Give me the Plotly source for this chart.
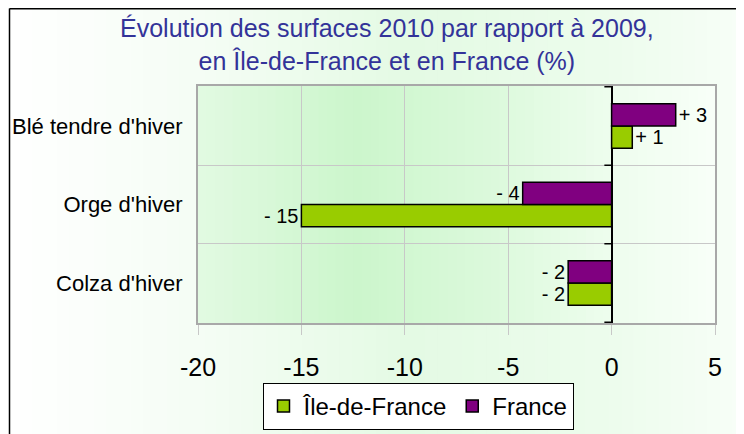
import plotly.graph_objects as go

# ---- data ----
categories = ["Colza d'hiver", "Orge d'hiver", "Blé tendre d'hiver"]
idf_values = [-2.1, -15.0, 1.0]
france_values = [-2.1, -4.3, 3.1]
idf_labels = ["- 2", "- 15", "+ 1"]
france_labels = ["- 2", "- 4", "+ 3"]
series_names = ["Île-de-France", "France"]
x_ticks = [-20, -15, -10, -5, 0, 5]
title_text = "Évolution des surfaces 2010 par rapport à 2009,<br>en Île-de-France et en France (%)"

FONT = "Liberation Sans, Arial, sans-serif"
OFF = 8                      # page body margin
W, H = 744 - OFF, 434 - OFF  # figure size
# plot area in window pixels: x 198..715, y 86..323
ML = 198 - OFF
MT = 86 - OFF
MR = W - (715 - OFF)
MB = H - (323 - OFF)
PW, PH = W - ML - MR, H - MT - MB


def px(xw):
    """window x pixel -> paper x"""
    return (xw - OFF - ML) / PW


def py(yw):
    """window y pixel -> paper y"""
    return (H - MB - (yw - OFF)) / PH


def lerp_color(stops, t):
    for i in range(len(stops) - 1):
        t0, c0 = stops[i]
        t1, c1 = stops[i + 1]
        if t0 <= t <= t1:
            f = (t - t0) / (t1 - t0) if t1 > t0 else 0
            c = [round(c0[k] + (c1[k] - c0[k]) * f) for k in range(3)]
            return "rgb(%d,%d,%d)" % tuple(c)
    c = stops[-1][1]
    return "rgb(%d,%d,%d)" % tuple(c)


shapes = []
# paper gradient (horizontal)
paper_stops = [(0.0, (255, 255, 255)), (0.25, (245, 253, 245)), (0.55, (228, 250, 228)),
               (0.8, (236, 252, 236)), (1.0, (247, 254, 247))]
N = 60
for i in range(N):
    x0w = OFF + W * i / N
    x1w = OFF + W * (i + 1) / N + 1
    shapes.append(dict(type="rect", xref="paper", yref="paper",
                       x0=px(x0w), x1=px(x1w), y0=py(OFF + H + 2), y1=py(OFF - 2),
                       fillcolor=lerp_color(paper_stops, (i + 0.5) / N),
                       line=dict(width=0), layer="below"))
# plot-area gradient
plot_stops = [(0.0, (226, 250, 226)), (0.3, (204, 246, 204)), (0.55, (218, 249, 218)),
              (0.8, (238, 253, 238)), (1.0, (248, 255, 248))]
for i in range(N):
    shapes.append(dict(type="rect", xref="x domain", yref="y domain",
                       x0=i / N, x1=(i + 1) / N + 0.002, y0=0, y1=1,
                       fillcolor=lerp_color(plot_stops, (i + 0.5) / N),
                       line=dict(width=0), layer="below"))
# outer frame (left and top edges)
shapes.append(dict(type="line", xref="paper", yref="paper", x0=px(9.5), x1=px(9.5), y0=py(8.5), y1=py(OFF + H + 5),
                   line=dict(color="black", width=1.5)))
shapes.append(dict(type="line", xref="paper", yref="paper", x0=px(9.5), x1=px(OFF + W + 5), y0=py(8.8), y1=py(8.8),
                   line=dict(color="black", width=1.5)))
# black tick marks on the value-zero axis at category boundaries
for b in [-0.5, 0.5, 1.5, 2.5]:
    shapes.append(dict(type="line", xref="x", yref="y", x0=-0.35, x1=0, y0=b, y1=b,
                       line=dict(color="black", width=1.5)))

fig = go.Figure()
fig.add_trace(go.Bar(
    name=series_names[0], y=categories, x=idf_values, orientation="h",
    marker=dict(color="#99CC00", line=dict(color="black", width=1.5)),
    text=idf_labels, textposition="outside", cliponaxis=False, constraintext="none",
    textfont=dict(family=FONT, size=20, color="black"),
))
fig.add_trace(go.Bar(
    name=series_names[1], y=categories, x=france_values, orientation="h",
    marker=dict(color="#800080", line=dict(color="black", width=1.5)),
    text=france_labels, textposition="outside", cliponaxis=False, constraintext="none",
    textfont=dict(family=FONT, size=20, color="black"),
))

fig.update_layout(
    width=W, height=H,
    margin=dict(l=ML, r=MR, t=MT, b=MB, pad=0, autoexpand=False),
    paper_bgcolor="white",
    plot_bgcolor="rgba(0,0,0,0)",
    barmode="group", bargap=0.43, bargroupgap=0,
    font=dict(family=FONT, color="black"),
    annotations=[dict(text=title_text, xref="paper", yref="paper",
                      x=px(387), xanchor="center", y=py(12), yanchor="top",
                      showarrow=False, align="center",
                      font=dict(family=FONT, size=25, color="#333399"))],
    xaxis=dict(range=[-20, 5], tickvals=x_ticks, ticktext=[str(v) for v in x_ticks],
               showgrid=True, gridcolor="#c8c8c8", gridwidth=1,
               zeroline=True, zerolinecolor="black", zerolinewidth=1.5,
               showline=True, linecolor="#a8a8a8", linewidth=2, mirror=True,
               ticks="outside", ticklen=10, tickcolor="#c8c8c8", tickwidth=1,
               ticklabelstandoff=11,
               tickfont=dict(family=FONT, size=25, color="black"), fixedrange=True),
    yaxis=dict(categoryorder="array", categoryarray=categories, type="category",
               tickson="boundaries", showgrid=True, gridcolor="#c8c8c8", gridwidth=1,
               showline=True, linecolor="#a8a8a8", linewidth=2, mirror=True,
               ticks="", ticklabelstandoff=9,
               tickfont=dict(family=FONT, size=22, color="black"), fixedrange=True),
    legend=dict(orientation="h", x=px(418), xanchor="center", y=py(383), yanchor="top",
                bgcolor="white", bordercolor="black", borderwidth=1,
                font=dict(family=FONT, size=24, color="black"),
                itemwidth=30, traceorder="normal"),
    shapes=shapes,
    showlegend=True,
)

fig.write_html("out.html")
